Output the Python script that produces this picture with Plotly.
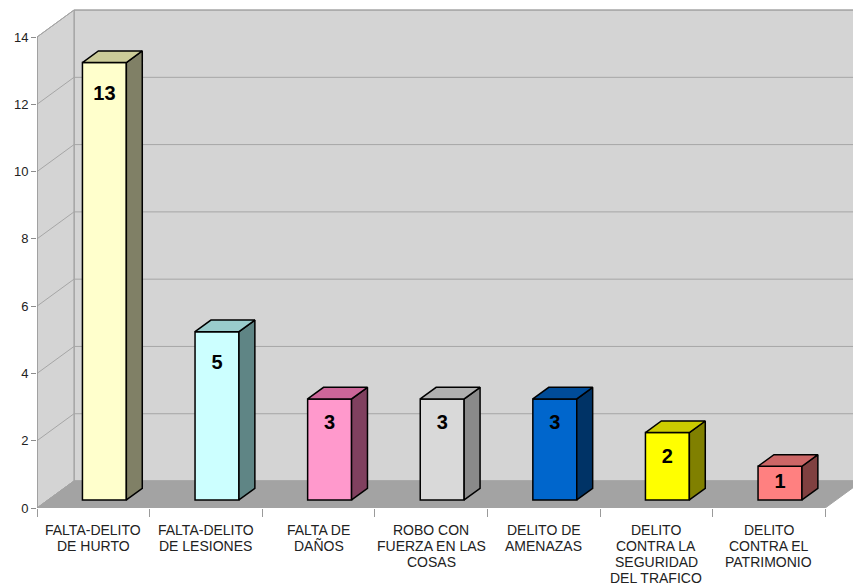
import plotly.graph_objects as go

# Offence categories and counts
categories = [
    "FALTA-DELITO<br>DE HURTO",
    "FALTA-DELITO<br>DE LESIONES",
    "FALTA DE<br>DAÑOS",
    "ROBO CON<br>FUERZA EN LAS<br>COSAS",
    "DELITO DE<br>AMENAZAS",
    "DELITO<br>CONTRA LA<br>SEGURIDAD<br>DEL TRAFICO",
    "DELITO<br>CONTRA EL<br>PATRIMONIO",
]
values = [13, 5, 3, 3, 3, 2, 1]
y_ticks = [0, 2, 4, 6, 8, 10, 12, 14]

face_colors = ["#FFFFCC", "#CCFFFF", "#FF99CC", "#D9D9D9", "#0066CC", "#FFFF00", "#FF8080"]
side_colors = ["#808066", "#5F8585", "#80405F", "#8A8A8A", "#003366", "#808000", "#804040"]
top_colors = ["#CCCC99", "#99CCCC", "#CC6699", "#B0B0B0", "#004C99", "#CCCC00", "#CC6666"]

# Pseudo-3D projection (depth offset expressed in axis units)
PX_CAT = 112.6
PX_UNIT = 33.64
DX = 37 / PX_CAT
DY = 27 / PX_UNIT
F0, F1 = 0.30, 0.73          # front / back of the bars within the floor depth
HALF = 0.195                 # half bar width in category units
Y_MAX = 14

W, H = 853, 586
ML, MB = 37, 78
x_range = [-0.5, -0.5 + (W - ML) / PX_CAT]
y_range = [0, (H - MB) / PX_UNIT]

n = len(categories)
x_lo, x_hi = -0.5, n - 0.5

fig = go.Figure()

shapes = []
wall = "#D4D4D4"
edge = "#9A9A9A"
# back wall
shapes.append(dict(type="rect", xref="x", yref="y", layer="below",
                   x0=x_lo + DX, x1=x_hi + DX, y0=DY, y1=Y_MAX + DY,
                   fillcolor=wall, line=dict(color=edge, width=1)))
# left side wall
shapes.append(dict(type="path", xref="x", yref="y", layer="below",
                   path=f"M{x_lo},0 L{x_lo + DX},{DY} L{x_lo + DX},{Y_MAX + DY} L{x_lo},{Y_MAX} Z",
                   fillcolor=wall, line=dict(color=edge, width=1)))
# gridlines on left wall and back wall
for v in y_ticks:
    shapes.append(dict(type="line", xref="x", yref="y", layer="below",
                       x0=x_lo, y0=v, x1=x_lo + DX, y1=v + DY,
                       line=dict(color="#A6A6A6", width=1)))
    shapes.append(dict(type="line", xref="x", yref="y", layer="below",
                       x0=x_lo + DX, y0=v + DY, x1=x_hi + DX, y1=v + DY,
                       line=dict(color="#A6A6A6", width=1)))
# floor
shapes.append(dict(type="path", xref="x", yref="y", layer="below",
                   path=f"M{x_lo},0 L{x_hi},0 L{x_hi + DX},{DY} L{x_lo + DX},{DY} Z",
                   fillcolor="#A3A3A3", line=dict(color="#A3A3A3", width=1)))
# front value axis line
shapes.append(dict(type="line", xref="x", yref="y", layer="below",
                   x0=x_lo, y0=0, x1=x_lo, y1=Y_MAX,
                   line=dict(color="#8C8C8C", width=1)))

b0 = F0 * DY
ddx = (F1 - F0) * DX
ddy = (F1 - F0) * DY
xs_front = [i + F0 * DX for i in range(n)]

# front faces
fig.add_trace(go.Bar(
    x=xs_front, y=values, base=[b0] * n, width=2 * HALF,
    marker=dict(color=face_colors, line=dict(color="black", width=1.5)),
    hoverinfo="skip", showlegend=False,
))

# side and top faces
for i, v in enumerate(values):
    xl = xs_front[i] - HALF
    xr = xs_front[i] + HALF
    top = b0 + v
    fig.add_trace(go.Scatter(
        x=[xr, xr + ddx, xr + ddx, xr, xr],
        y=[b0, b0 + ddy, top + ddy, top, b0],
        fill="toself", fillcolor=side_colors[i], mode="lines",
        line=dict(color="black", width=1.5), hoverinfo="skip", showlegend=False))
    fig.add_trace(go.Scatter(
        x=[xl, xr, xr + ddx, xl + ddx, xl],
        y=[top, top, top + ddy, top + ddy, top],
        fill="toself", fillcolor=top_colors[i], mode="lines",
        line=dict(color="black", width=1.5), hoverinfo="skip", showlegend=False))


def label_y(v):
    # inside-end label, dropped to the middle on short bars
    drop = 0.95 if v >= 4 else 0.75
    return b0 + max(v - drop, v / 2)


# value labels
fig.add_trace(go.Scatter(
    x=xs_front,
    y=[label_y(v) for v in values],
    text=[str(v) for v in values], mode="text",
    textfont=dict(family="Liberation Sans, Arial", size=20, color="black"),
    texttemplate="<b>%{text}</b>", hoverinfo="skip", showlegend=False))

# category labels, one annotation per line for tight line spacing
annotations = []
for i, c in enumerate(categories):
    for k, line in enumerate(c.split("<br>")):
        annotations.append(dict(x=i, xref="x", y=0, yref="paper", yanchor="middle",
                                yshift=-22 - 16 * k, text=line, showarrow=False,
                                font=dict(family="Liberation Sans, Arial", size=14, color="#222222")))

fig.update_layout(
    width=W, height=H,
    margin=dict(l=ML, r=0, t=0, b=MB),
    plot_bgcolor="white", paper_bgcolor="white",
    shapes=shapes, annotations=annotations,
    xaxis=dict(range=x_range, showgrid=False, zeroline=False, showline=False,
               tickvals=[k - 0.5 for k in range(n + 1)], ticktext=[""] * (n + 1),
               ticks="outside", ticklen=8, tickcolor="#9A9A9A", fixedrange=True),
    yaxis=dict(range=y_range, showgrid=False, zeroline=False, showline=False,
               tickvals=y_ticks, ticks="outside", ticklen=5, tickcolor="#8C8C8C",
               tickfont=dict(family="Liberation Sans, Arial", size=13, color="#222222"),
               fixedrange=True),
    font=dict(family="Liberation Sans, Arial"),
)

fig.write_html("out.html")
